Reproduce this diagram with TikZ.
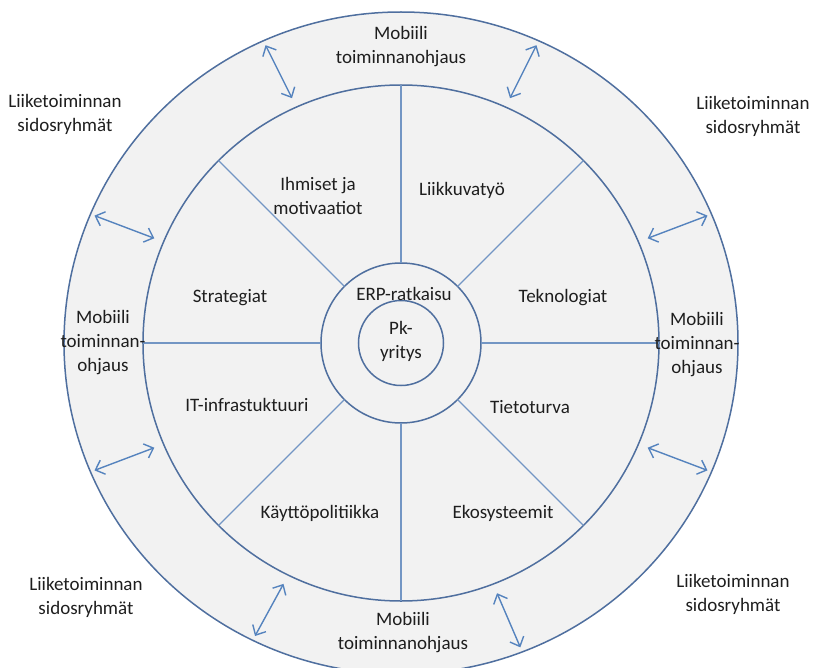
\documentclass[tikz,border=0pt]{standalone}
\usepackage{fontspec}
\setmainfont{Carlito}
\usepackage{xcolor}
\usepackage{tikz}
\usetikzlibrary{arrows.meta}
\definecolor{ringline}{HTML}{4F6F9F}
\definecolor{spoke}{HTML}{7396C4}
\definecolor{arrowblue}{HTML}{5583BE}
\definecolor{panel}{HTML}{F2F2F2}
\definecolor{label}{HTML}{1E1E1E}
\tikzset{
  ring/.style={circle, draw=ringline, fill=panel, line width=1.5pt, outer sep=0pt, inner sep=0pt},
  spokeline/.style={draw=spoke, line width=1.3pt},
  twoway/.style={{Straight Barb[length=8pt,width=15pt]}-{Straight Barb[length=8pt,width=15pt]}, line width=1.4pt, draw=arrowblue},
  lbl/.style={align=center, text=label, font=\fontsize{19}{24}\selectfont, inner sep=0pt}
}

\begin{document}
\begin{tikzpicture}[x=1pt,y=1pt]
  \useasboundingbox (-401,-324) rectangle (418,343);
  \clip (-401,-324) rectangle (418,343);
  % rings
  \filldraw[draw=ringline, fill=panel, line width=1.5pt] (0,0) ellipse [x radius=337, y radius=331];
  \node[ring, minimum size=516pt] (mid) at (0,0) {};
  \node[ring, minimum size=160pt] (erp) at (0,0) {};
  \node[ring, minimum size=85pt] (core) at (0,0) {};
  \foreach \a in {0,45,...,315}
    \draw[spokeline] (erp.\a) -- (mid.\a);
  % two-way arrows in the outer ring
  \foreach \a [count=\i] in {23,66,114,157,203,244,291,337}{
    \coordinate (in\i) at (\a:268);
    \coordinate (out\i) at (\a:333 and 326);
    \draw[twoway] (in\i) -- (out\i);
  }
  % centre
  \node[lbl] (pk) at (0,2) {Pk-\\yritys};
  \node[lbl] (erplbl) at (3,49) {ERP-ratkaisu};
  % sectors
  \node[lbl] (people) at (-83,147) {Ihmiset ja\\motivaatiot};
  \node[lbl] (mobile) at (61,153) {Liikkuvatyö};
  \node[lbl] (strat) at (-171,45) {Strategiat};
  \node[lbl] (tech) at (162,45) {Teknologiat};
  \node[lbl] (infra) at (-154,-62) {IT-infrastuktuuri};
  \node[lbl] (secu) at (129,-64) {Tietoturva};
  \node[lbl] (policy) at (-81,-170) {Käyttöpolitiikka};
  \node[lbl] (eco) at (102,-170) {Ekosysteemit};
  % outer ring
  \node[lbl] (mtop) at (0,296) {Mobiili\\toiminnanohjaus};
  \node[lbl] (mbot) at (2,-290) {Mobiili\\toiminnanohjaus};
  \node[lbl] (mleft) at (-298,0) {Mobiili\\toiminnan-\\ohjaus};
  \node[lbl] (mright) at (296,-2) {Mobiili\\toiminnan-\\ohjaus};
  % outside
  \node[lbl] (stakeTL) at (-336,229) {Liiketoiminnan\\sidosryhmät};
  \node[lbl] (stakeTR) at (352,227) {Liiketoiminnan\\sidosryhmät};
  \node[lbl] (stakeBL) at (-315,-254) {Liiketoiminnan\\sidosryhmät};
  \node[lbl] (stakeBR) at (332,-251) {Liiketoiminnan\\sidosryhmät};
\end{tikzpicture}
\end{document}
